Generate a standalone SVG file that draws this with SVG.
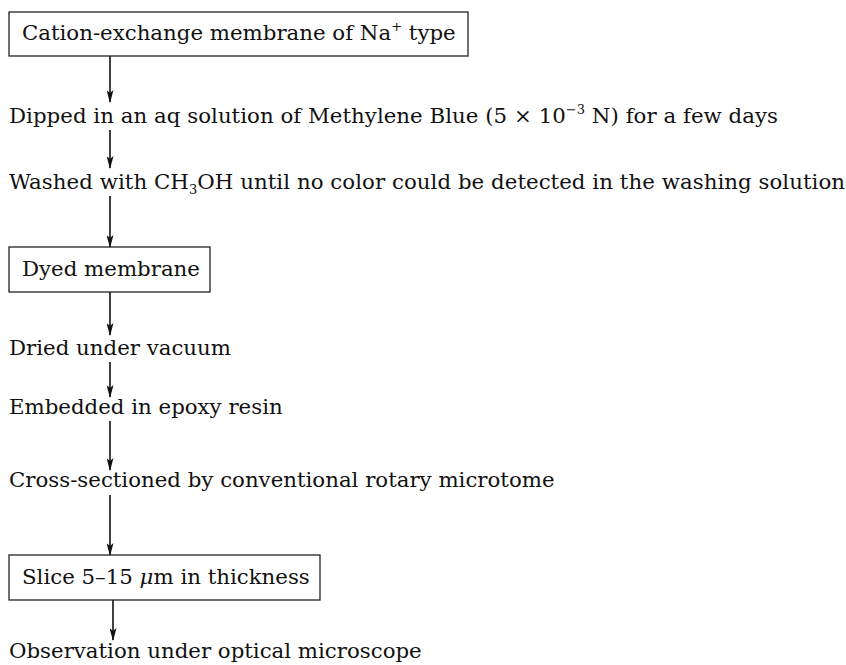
<svg xmlns="http://www.w3.org/2000/svg" width="846" height="665" viewBox="0 0 846 665">
<defs>
<style>
text{font-family:"DejaVu Serif","Liberation Serif",serif;font-size:21.3px;fill:#111}
.box{fill:#fff;stroke:#222;stroke-width:1.3}
.arr{stroke:#111;stroke-width:1.6;fill:none;marker-end:url(#ah)}
</style>
<marker id="ah" markerWidth="13" markerHeight="7" refX="12" refY="3.5" orient="auto" markerUnits="userSpaceOnUse" viewBox="0 0 13 7">
<path d="M0,0 L13,3.5 L0,7 L3,3.5 Z" fill="#111"/>
</marker>
</defs>
<rect width="846" height="665" fill="#fff"/>
<g id="connectors">
<line class="arr" x1="110" y1="56" x2="110" y2="102"/>
<line class="arr" x1="110" y1="130" x2="110" y2="168"/>
<line class="arr" x1="110" y1="196" x2="110" y2="247"/>
<line class="arr" x1="110" y1="292" x2="110" y2="335"/>
<line class="arr" x1="110" y1="362" x2="110" y2="397"/>
<line class="arr" x1="110" y1="421" x2="110" y2="470"/>
<line class="arr" x1="110" y1="495" x2="110" y2="555"/>
<line class="arr" x1="113" y1="600" x2="113" y2="640"/>
</g>
<g id="n1">
<rect class="box" x="9" y="12" width="459" height="44"/>
<text x="22" y="40">Cation-exchange membrane of Na<tspan font-size="13" dy="-9">+</tspan><tspan dy="9"> type</tspan></text>
</g>
<g id="n2">
<text x="9" y="123" textLength="769" lengthAdjust="spacing">Dipped in an aq solution of Methylene Blue (5 × 10<tspan font-size="13" dy="-9">−3</tspan><tspan dy="9"> N) for a few days</tspan></text>
</g>
<g id="n3">
<text x="9" y="189" textLength="836" lengthAdjust="spacing">Washed with CH<tspan font-size="13" dy="5">3</tspan><tspan dy="-5">OH until no color could be detected in the washing solution</tspan></text>
</g>
<g id="n4">
<rect class="box" x="9" y="247" width="201" height="45"/>
<text x="22" y="276">Dyed membrane</text>
</g>
<g id="n5">
<text x="9" y="355">Dried under vacuum</text>
</g>
<g id="n6">
<text x="9" y="414">Embedded in epoxy resin</text>
</g>
<g id="n7">
<text x="9" y="487">Cross-sectioned by conventional rotary microtome</text>
</g>
<g id="n8">
<rect class="box" x="9" y="555" width="311" height="45"/>
<text x="22" y="584">Slice 5–15 <tspan font-style="italic">μ</tspan>m in thickness</text>
</g>
<g id="n9">
<text x="9" y="658">Observation under optical microscope</text>
</g>
</svg>
